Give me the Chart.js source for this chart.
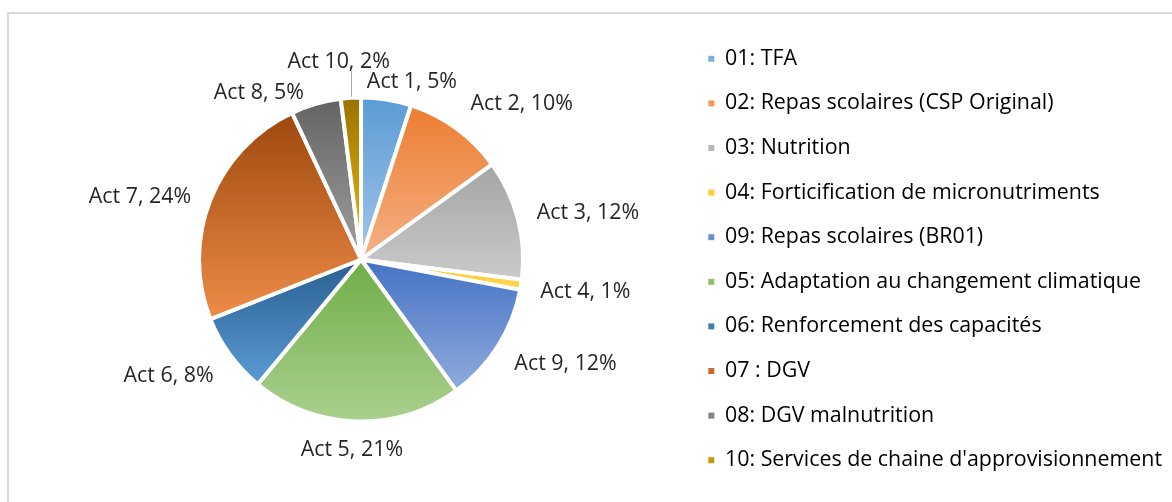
<!DOCTYPE html>
<html>
<head>
<meta charset="utf-8">
<script src="https://cdn.jsdelivr.net/npm/chart.js@4.4.1/dist/chart.umd.min.js"></script>
<style>
    html, body { margin: 0; padding: 0; background: #fff; overflow: hidden; }
    #frame { position: absolute; left: 7px; top: 12px; width: 1200px; height: 520px;
             border-left: 2px solid #d9d9d9; border-top: 2px solid #d9d9d9; }
    #wrap { position: absolute; left: 0; top: 0; width: 1172px; height: 502px; }
</style>
</head>
<body>
<div id="frame"></div>
<div id="wrap"><canvas id="pie"></canvas></div>
<script>
// Data
const legendNames = [
    '01: TFA',
    '02: Repas scolaires (CSP Original)',
    '03: Nutrition',
    '04: Forticification de micronutriments',
    '09: Repas scolaires (BR01)',
    '05: Adaptation au changement climatique',
    '06: Renforcement des capacités',
    '07 : DGV',
    '08: DGV malnutrition',
    "10: Services de chaine d'approvisionnement"
];
const sliceNames = ['Act 1', 'Act 2', 'Act 3', 'Act 4', 'Act 9', 'Act 5', 'Act 6', 'Act 7', 'Act 8', 'Act 10'];
const shares = [5, 10, 12, 1, 12, 21, 8, 24, 5, 2];

// Colours: top of each slice -> bottom of each slice
const topColors = ['#5b9bd5', '#ed7d31', '#a5a5a5', '#ffc000', '#4472c4', '#70ad47', '#285f91', '#9e480e', '#636363', '#997300'];
const bottomColors = ['#a2c6e8', '#f4b185', '#cacaca', '#ffd966', '#90abdd', '#aad18f', '#5b9bd5', '#ee8c48', '#a0a0a0', '#f2bd12'];
const legendColors = ['#7aafdf', '#f09a5b', '#b8b8b8', '#ffcc33', '#6a8ed0', '#8dc06b', '#3f7cb3', '#c76a2b', '#828282', '#c89a0a'];

const PIE_RADIUS = 162;
const LABEL_GAP = 16;
// small shifts so labels sit where the original puts them
const labelNudge = [[16, 9], [26, -3], [5, 0], [4, 3], [11, 3], [-2, 1], [-12, 5], [-8, 7], [-40, 15], [-8, -9]];
const leaderLine = [false, false, false, false, false, false, false, false, false, true];

const FONT = '"Open Sans", "Noto Sans", sans-serif';
const FONT_SIZE = 21.4;
const TEXT = '#262626';

// Vertical gradient across each slice's own height
function sliceGradient(ctx) {
    const chart = ctx.chart;
    const area = chart.chartArea;
    const i = ctx.dataIndex;
    if (!area || i === undefined) return topColors[i] || topColors[0];
    const total = shares.reduce((a, b) => a + b, 0);
    let before = 0;
    for (let k = 0; k < i; k++) before += shares[k];
    const a0 = -Math.PI / 2 + before / total * 2 * Math.PI;
    const a1 = a0 + shares[i] / total * 2 * Math.PI;
    const cy = (area.top + area.bottom) / 2;
    const ys = [cy, cy + PIE_RADIUS * Math.sin(a0), cy + PIE_RADIUS * Math.sin(a1)];
    if (a0 < Math.PI / 2 && a1 > Math.PI / 2) ys.push(cy + PIE_RADIUS);
    const g = chart.ctx.createLinearGradient(0, Math.min(...ys), 0, Math.max(...ys));
    g.addColorStop(0, topColors[i]);
    g.addColorStop(1, bottomColors[i]);
    return g;
}

// "Act N, X%" labels outside the pie
const sliceLabels = {
    id: 'sliceLabels',
    afterDatasetsDraw(chart) {
        const { ctx } = chart;
        const meta = chart.getDatasetMeta(0);
        ctx.save();
        ctx.font = FONT_SIZE + 'px ' + FONT;
        ctx.fillStyle = TEXT;
        ctx.textAlign = 'center';
        ctx.textBaseline = 'middle';
        meta.data.forEach((arc, i) => {
            const mid = (arc.startAngle + arc.endAngle) / 2;
            const R = arc.outerRadius + LABEL_GAP;
            const ax = arc.x + Math.cos(mid) * R;
            const ay = arc.y + Math.sin(mid) * R;
            const text = sliceNames[i] + ', ' + shares[i] + '%';
            const w = ctx.measureText(text).width;
            const h = 22;
            const cx = ax + Math.cos(mid) * w / 2 + labelNudge[i][0];
            const cy = ay + Math.sin(mid) * h / 2 + labelNudge[i][1];
            ctx.fillText(text, cx, cy);
            if (leaderLine[i]) {
                const ex = arc.x + Math.cos(mid) * (arc.outerRadius + 1);
                const ey = arc.y + Math.sin(mid) * (arc.outerRadius + 1);
                const lx = Math.min(Math.max(ex, cx - w / 2), cx + w / 2);
                ctx.beginPath();
                ctx.strokeStyle = '#a6a6a6';
                ctx.lineWidth = 1;
                ctx.moveTo(Math.round(ex) + 0.5, ey);
                ctx.lineTo(Math.round(lx) + 0.5, cy + 9);
                ctx.stroke();
            }
        });
        ctx.restore();
    }
};

new Chart(document.getElementById('pie'), {
    type: 'pie',
    data: {
        labels: legendNames,
        datasets: [{
            data: shares,
            backgroundColor: sliceGradient,
            borderColor: '#ffffff',
            borderWidth: 4,
            radius: PIE_RADIUS
        }]
    },
    options: {
        responsive: true,
        maintainAspectRatio: false,
        animation: false,
        layout: { padding: { left: 37, right: 0, top: 18, bottom: 1 } },
        plugins: {
            tooltip: { enabled: false },
            legend: {
                position: 'right',
                align: 'center',
                labels: {
                    boxWidth: 6,
                    boxHeight: 6,
                    padding: 44.6 - FONT_SIZE,
                    color: TEXT,
                    font: { family: FONT, size: FONT_SIZE },
                    generateLabels: () => legendNames.map((t, i) => ({
                        text: t,
                        fillStyle: legendColors[i],
                        strokeStyle: legendColors[i],
                        lineWidth: 0,
                        hidden: false,
                        index: i
                    }))
                }
            }
        }
    },
    plugins: [sliceLabels]
});
</script>
</body>
</html>
